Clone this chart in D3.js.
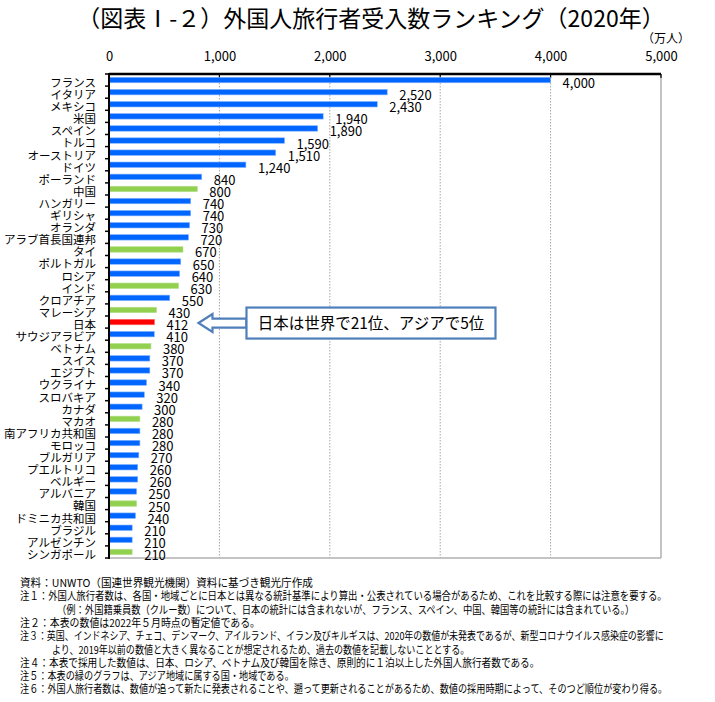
<!DOCTYPE html>
<html>
<head>
<meta charset="utf-8">
<script src="https://cdn.jsdelivr.net/npm/d3@7"></script>
<style>
  body { margin: 0; background: #fff; }
  svg text { font-family: "Noto Sans CJK JP", "Noto Sans", sans-serif; fill: #000; }
</style>
</head>
<body>
<div id="chart"></div>
<script>
// data (万人)
var countries = ["フランス","イタリア","メキシコ","米国","スペイン","トルコ","オーストリア","ドイツ","ポーランド","中国",
  "ハンガリー","ギリシャ","オランダ","アラブ首長国連邦","タイ","ポルトガル","ロシア","インド","クロアチア","マレーシア",
  "日本","サウジアラビア","ベトナム","スイス","エジプト","ウクライナ","スロバキア","カナダ","マカオ","南アフリカ共和国",
  "モロッコ","ブルガリア","プエルトリコ","ベルギー","アルバニア","韓国","ドミニカ共和国","ブラジル","アルゼンチン","シンガポール"];
var values = [4000,2520,2430,1940,1890,1590,1510,1240,840,800,
  740,740,730,720,670,650,640,630,550,430,
  412,410,380,370,370,340,320,300,280,280,
  280,270,260,260,250,250,240,210,210,210];
var asiaCountries = ["中国","タイ","インド","マレーシア","ベトナム","マカオ","韓国","シンガポール"];
var highlight = "日本";
var tickValues = [0,1000,2000,3000,4000,5000];

var title = "（図表Ⅰ-２）外国人旅行者受入数ランキング（2020年）";
var unitLabel = "（万人）";
var calloutText = "日本は世界で21位、アジアで5位";
var notes = [
  {indent: 0,  width: 293, text: "資料：UNWTO（国連世界観光機関）資料に基づき観光庁作成"},
  {indent: 0,  width: 647, text: "注１：外国人旅行者数は、各国・地域ごとに日本とは異なる統計基準により算出・公表されている場合があるため、これを比較する際には注意を要する。"},
  {indent: 37, width: 578, text: "（例：外国籍乗員数（クルー数）について、日本の統計には含まれないが、フランス、スペイン、中国、韓国等の統計には含まれている。）"},
  {indent: 0,  width: 240, text: "注２：本表の数値は2022年５月時点の暫定値である。"},
  {indent: 0,  width: 645, text: "注３：英国、インドネシア、チェコ、デンマーク、アイルランド、イラン及びキルギスは、2020年の数値が未発表であるが、新型コロナウイルス感染症の影響に"},
  {indent: 32, width: 418, text: "より、2019年以前の数値と大きく異なることが想定されるため、過去の数値を記載しないこととする。"},
  {indent: 0,  width: 520, text: "注４：本表で採用した数値は、日本、ロシア、ベトナム及び韓国を除き、原則的に１泊以上した外国人旅行者数である。"},
  {indent: 0,  width: 274, text: "注５：本表の緑のグラフは、アジア地域に属する国・地域である。"},
  {indent: 0,  width: 648, text: "注６：外国人旅行者数は、数値が追って新たに発表されることや、遡って更新されることがあるため、数値の採用時期によって、そのつど順位が変わり得る。"}
];

var svgWidth = 715, svgHeight = 702;
var margin = {top: 74, right: 54, bottom: 144, left: 109};
var width = svgWidth - margin.left - margin.right;
var height = svgHeight - margin.top - margin.bottom;

var svgBG = d3.select("#chart").append("svg")
    .attr("width", svgWidth)
    .attr("height", svgHeight);

svgBG.append("text")
    .attr("x", 371).attr("y", 27)
    .attr("text-anchor", "middle")
    .style("font-size", "23px")
    .text(title);

svgBG.append("text")
    .attr("x", 690).attr("y", 43)
    .attr("text-anchor", "end")
    .style("font-size", "12px")
    .text(unitLabel);

var svg = svgBG.append("g")
    .attr("transform", "translate(" + margin.left + "," + margin.top + ")");

var x = d3.scaleLinear().domain([0, 5000]).range([0, width]);
var y = d3.scaleBand().domain(countries).range([0, height]).paddingInner(0.55).paddingOuter(0.275);

// grid lines
svg.selectAll(".grid")
    .data(tickValues.filter(function(d) { return d > 0 && d < 5000; }))
    .enter().append("line")
    .attr("x1", function(d) { return x(d); })
    .attr("x2", function(d) { return x(d); })
    .attr("y1", 0).attr("y2", height)
    .style("stroke", "#a6a6a6")
    .style("stroke-dasharray", "1.5,1.5");

// right and bottom border
svg.append("line")
    .attr("x1", x(5000)).attr("x2", x(5000))
    .attr("y1", 0).attr("y2", height)
    .style("stroke", "#b0b0b0").style("stroke-width", 1.5);
svg.append("line")
    .attr("x1", 0).attr("x2", x(5000))
    .attr("y1", height).attr("y2", height)
    .style("stroke", "#b0b0b0").style("stroke-width", 1.5);

// top axis
var xAxis = d3.axisTop(x).tickValues(tickValues).tickFormat(d3.format(",")).tickSize(0).tickPadding(13);
var xAxisSVG = svg.append("g").call(xAxis);
xAxisSVG.select(".domain").remove();
xAxisSVG.selectAll("text").style("font-size", "13px").attr("font-family", null);
svg.append("line")
    .attr("x1", 0).attr("x2", x(5000))
    .attr("y1", 0).attr("y2", 0)
    .style("stroke", "#000").style("stroke-width", 2.5);
svg.selectAll(".xtick")
    .data(tickValues.filter(function(d) { return d > 0; }))
    .enter().append("line")
    .attr("x1", function(d) { return x(d); })
    .attr("x2", function(d) { return x(d); })
    .attr("y1", 0).attr("y2", 4)
    .style("stroke", "#000").style("stroke-width", 1.2);

// bars
svg.selectAll(".bar")
    .data(countries)
    .enter().append("rect")
    .attr("class", "bar")
    .attr("x", 0)
    .attr("y", function(d) { return y(d); })
    .attr("width", function(d, i) { return x(values[i]); })
    .attr("height", y.bandwidth())
    .style("fill", function(d) {
        if (d == highlight) return "#ff0000";
        if (asiaCountries.indexOf(d) >= 0) return "#92d050";
        return "#0066ff";
    })
    .style("stroke", function(d) {
        if (d == highlight) return "#ff6b6b";
        if (asiaCountries.indexOf(d) >= 0) return "#b5e08c";
        return "#7fb2ff";
    })
    .style("stroke-width", 0.6);

// value labels
svg.selectAll(".val")
    .data(countries)
    .enter().append("text")
    .attr("x", function(d, i) { return x(values[i]) + 12; })
    .attr("y", function(d) { return y(d) + y.bandwidth() / 2 + 8; })
    .style("font-size", "13px")
    .text(function(d, i) { return d3.format(",")(values[i]); });

// left axis
var yAxis = d3.axisLeft(y).tickSize(0).tickPadding(13);
var yAxisSVG = svg.append("g").call(yAxis);
yAxisSVG.select(".domain").remove();
yAxisSVG.selectAll("text")
    .attr("font-family", null)
    .attr("dy", "0.6em")
    .style("font-size", "11.5px");
svg.append("line")
    .attr("x1", 0).attr("x2", 0)
    .attr("y1", -1).attr("y2", height + 1)
    .style("stroke", "#000").style("stroke-width", 2);
var step = y.step();
svg.selectAll(".ytick")
    .data(countries.concat(["end"]))
    .enter().append("line")
    .attr("x1", -4).attr("x2", 0)
    .attr("y1", function(d, i) { return i * step; })
    .attr("y2", function(d, i) { return i * step; })
    .style("stroke", "#000").style("stroke-width", 1.5);

// callout for Japan
var jIndex = countries.indexOf(highlight);
var tipX = x(values[jIndex]) + 44;
var tipY = y(highlight) + y.bandwidth() / 2 + 1;
var headW = 14, headH = 9, shaftH = 4.5, boxX = tipX + 48, boxW = 249, boxH = 31;
var callout = svg.append("g");
callout.append("path")
    .attr("d", "M" + tipX + "," + tipY +
        "L" + (tipX + headW) + "," + (tipY - headH) +
        "L" + (tipX + headW) + "," + (tipY - shaftH) +
        "L" + boxX + "," + (tipY - shaftH) +
        "L" + boxX + "," + (tipY + shaftH) +
        "L" + (tipX + headW) + "," + (tipY + shaftH) +
        "L" + (tipX + headW) + "," + (tipY + headH) + "Z")
    .style("fill", "#fff")
    .style("stroke", "#4f7fba")
    .style("stroke-width", 2.2)
    .style("stroke-linejoin", "miter");
callout.append("rect")
    .attr("x", boxX).attr("y", tipY - boxH / 2)
    .attr("width", boxW).attr("height", boxH)
    .style("fill", "#fff")
    .style("stroke", "#4f7fba")
    .style("stroke-width", 2.2);
callout.append("text")
    .attr("x", boxX + boxW / 2).attr("y", tipY + 6)
    .attr("text-anchor", "middle")
    .style("font-size", "15.5px")
    .text(calloutText);

// footnotes: squeeze each line horizontally to the width it has in the source
var noteG = svgBG.selectAll(".note")
    .data(notes)
    .enter().append("g")
    .attr("class", "note");
noteG.append("text")
    .attr("x", 0).attr("y", 0)
    .style("font-size", "11px")
    .text(function(d) { return d.text; });
noteG.attr("transform", function(d, i) {
    var natural = this.querySelector("text").getComputedTextLength();
    var sx = d.width / natural;
    return "translate(" + (20 + d.indent) + "," + (587 + i * 13.3) + ") scale(" + sx + ",1)";
});
</script>
</body>
</html>
